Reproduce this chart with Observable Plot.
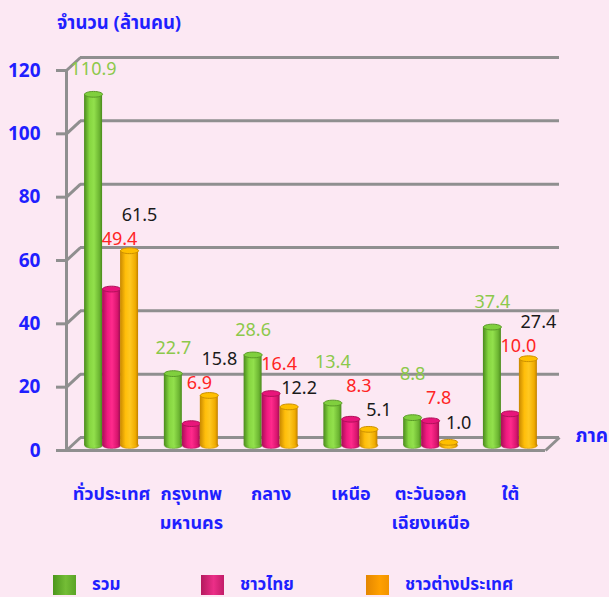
<!DOCTYPE html>
<html><head><meta charset="utf-8">
<script src="https://cdn.jsdelivr.net/npm/d3@7"></script>
<script src="https://cdn.jsdelivr.net/npm/@observablehq/plot@0.6"></script>
<style>
html,body{margin:0;padding:0;background:#fce8f3;}
body{width:609px;height:597px;overflow:hidden;font-family:"Noto Sans Thai",Tahoma,"Noto Sans",sans-serif;}
#title{height:40px;padding-left:57px;font-size:18.5px;font-weight:bold;color:#1f1fff;line-height:46px;box-sizing:border-box;}
#chart svg{display:block;overflow:visible;background:transparent;}
#legend{position:relative;height:57px;}
.item{position:absolute;top:35px;height:20px;display:flex;align-items:center;}
.sw{width:23px;height:20px;margin-right:16px;}
.lab{font-size:17px;font-weight:bold;color:#1f1fff;}
</style></head>
<body>
<div id="title">จำนวน (ล้านคน)</div>
<div id="chart"></div>
<div id="legend"></div>
<script>
// ---- data ----
const regions = ["ทั่วประเทศ", "กรุงเทพ\nมหานคร", "กลาง", "เหนือ", "ตะวันออก\nเฉียงเหนือ", "ใต้"];
const total   = [110.9, 22.7, 28.6, 13.4, 8.8, 37.4];
const thai    = [49.4, 6.9, 16.4, 8.3, 7.8, 10.0];
const foreign = [61.5, 15.8, 12.2, 5.1, 1.0, 27.4];
const seriesNames = ["รวม", "ชาวไทย", "ชาวต่างประเทศ"];
const yTicks = [0, 20, 40, 60, 80, 100, 120];
const axisTitle = "ภาค";

// ---- styling / layout ----
const W = 609, H = 500, mL = 66, mR = 64, mT = 30, mB = 90;
const blue = "#1f1fff";
const gray = "#8f8f8f";
const series = [
  {name: seriesNames[0], values: total,   grad: "gGreen",  cap: "#80cf3e", capStroke: "#5a9a28", label: "#8cc84b", dx: 0,
   stops: [[0, "#4a8a1c"], [0.3, "#86d640"], [0.55, "#92e04c"], [0.85, "#6cb532"], [1, "#4a8a1c"]]},
  {name: seriesNames[1], values: thai,    grad: "gMagenta", cap: "#e8157a", capStroke: "#b0105a", label: "#ff2424", dx: 8,
   stops: [[0, "#a80f56"], [0.3, "#f01a80"], [0.55, "#ff2a8c"], [0.85, "#d8156e"], [1, "#a00e52"]]},
  {name: seriesNames[2], values: foreign, grad: "gOrange",  cap: "#ffbf00", capStroke: "#cc9000", label: "#1a1a1a", dx: 10,
   stops: [[0, "#c88800"], [0.3, "#ffbe0a"], [0.55, "#ffc820"], [0.85, "#f0ac00"], [1, "#c08000"]]}
];
const legendSw = [
  "linear-gradient(90deg,#4c961c,#74bd36 55%,#5aa426)",
  "linear-gradient(90deg,#b41a5e,#ec2e88 55%,#c21c68)",
  "linear-gradient(90deg,#e48600,#ffa000 60%,#f29400)"
];

const xMin = -0.565, xMax = 5.44;
const barW = 0.2256;
const depthX = 0.1755, depthY = 4.1;
const barDy = -5;

const ellipse = {
  draw(ctx, size) {
    const rx = Math.sqrt(size / Math.PI), ry = rx * 0.32, k = 0.5523;
    ctx.moveTo(rx, 0);
    ctx.bezierCurveTo(rx, ry * k, rx * k, ry, 0, ry);
    ctx.bezierCurveTo(-rx * k, ry, -rx, ry * k, -rx, 0);
    ctx.bezierCurveTo(-rx, -ry * k, -rx * k, -ry, 0, -ry);
    ctx.bezierCurveTo(rx * k, -ry, rx, -ry * k, rx, 0);
    ctx.closePath();
  }
};

// label placement: above each bar, nudged apart so labels do not collide
const yS = Plot.scale({y: {domain: [0, 120], range: [H - mB, mT]}});
const barTop = v => yS.apply(v) + barDy;
const gap = 24;
const labelY = [[], [], []];
regions.forEach((_, i) => {
  let yG = barTop(total[i]) - 25;
  let yT = barTop(thai[i]) - 23;
  let yF = barTop(foreign[i]) - 19;
  if (foreign[i] > thai[i]) {
    yT = Math.min(yT, barTop(foreign[i]) - 12);
    yF = Math.min(yF, yT - gap);
  } else if (Math.abs(yT - yF) < gap) {
    yT = Math.min(yT, yF - gap);
  }
  if (Math.abs(yG - yT) < gap) yG = Math.min(yG, yT - gap);
  labelY[0][i] = yS.invert(yG);
  labelY[1][i] = yS.invert(yT);
  labelY[2][i] = yS.invert(yF);
});

const marks = [
  Plot.ruleY(yTicks, {y: d => d + depthY, x1: xMin + depthX, x2: xMax + depthX, stroke: gray, strokeWidth: 3}),
  Plot.link(yTicks, {x1: xMin, y1: d => d, x2: xMin + depthX, y2: d => d + depthY, stroke: gray, strokeWidth: 3}),
  Plot.link([0], {x1: xMax, y1: 0, x2: xMax + depthX, y2: depthY, stroke: gray, strokeWidth: 3}),
  Plot.ruleY([0], {x1: xMin, x2: xMax, stroke: gray, strokeWidth: 3}),
  Plot.ruleX([xMin], {y1: -0.5, y2: 120, stroke: gray, strokeWidth: 3}),
  Plot.axisY(yTicks, {tickSize: 10, tickPadding: 16, stroke: gray, strokeWidth: 3, fill: blue, fontSize: 19, fontWeight: "bold", label: null}),
  Plot.axisX(d3.range(regions.length), {tickSize: 0, tickPadding: 29, tickFormat: i => regions[i], fill: blue, fontSize: 18, fontWeight: "bold", lineHeight: 1.62, label: null}),
  Plot.text([axisTitle], {frameAnchor: "bottom-right", textAnchor: "start", dx: 30, dy: -9, fill: blue, fontSize: 19, fontWeight: "bold"})
];

series.forEach((s, si) => {
  const rows = s.values.map((v, i) => ({i, v, c: i + (si - 1) * barW}));
  marks.push(
    Plot.dot(rows, {x: "c", y: 0, dy: barDy, r: 9, symbol: ellipse, fill: `url(#${s.grad})`, stroke: s.capStroke, strokeWidth: 0.6}),
    Plot.rectY(rows, {x1: d => d.c - barW / 2, x2: d => d.c + barW / 2, y1: 0, y2: "v", dy: barDy, fill: `url(#${s.grad})`}),
    Plot.dot(rows, {x: "c", y: "v", dy: barDy, r: 9, symbol: ellipse, fill: s.cap, stroke: s.capStroke, strokeWidth: 1})
  );
});
series.forEach((s, si) => {
  const rows = s.values.map((v, i) => ({i, v, c: i + (si - 1) * barW, ly: labelY[si][i]}));
  marks.push(Plot.text(rows, {x: "c", y: "ly", text: d => d.v.toFixed(1), dx: s.dx, fill: s.label, fontSize: 18, fontFamily: "'Noto Sans', Tahoma, sans-serif"}));
});

const svg = Plot.plot({
  width: W, height: H,
  marginLeft: mL, marginRight: mR, marginTop: mT, marginBottom: mB,
  style: {background: "transparent", fontFamily: "'Noto Sans Thai', Tahoma, 'Noto Sans', sans-serif", overflow: "visible"},
  x: {domain: [xMin, xMax]},
  y: {domain: [0, 120]},
  marks
});

const defs = d3.select(svg).insert("defs", ":first-child");
series.forEach(s => {
  const lg = defs.append("linearGradient").attr("id", s.grad).attr("x1", 0).attr("x2", 1).attr("y1", 0).attr("y2", 0);
  s.stops.forEach(([o, c]) => lg.append("stop").attr("offset", o).attr("stop-color", c));
});
document.getElementById("chart").appendChild(svg);

// legend
const lefts = [53, 201, 366];
const legend = document.getElementById("legend");
series.forEach((s, i) => {
  const item = document.createElement("div");
  item.className = "item";
  item.style.left = lefts[i] + "px";
  item.innerHTML = `<div class="sw" style="background:${legendSw[i]}"></div><span class="lab">${s.name}</span>`;
  legend.appendChild(item);
});
</script>
</body></html>
